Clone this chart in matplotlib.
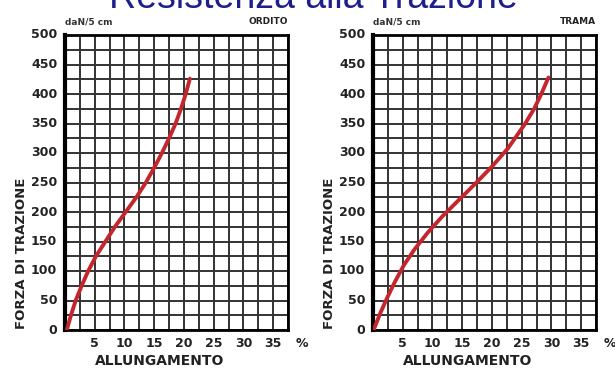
import numpy as np
import matplotlib.pyplot as plt

plt.rcParams['font.family'] = ['DejaVu Sans']

# allungamento (%) e forza di trazione (daN/5 cm)
ordito_x = [0.3, 1.0, 1.8, 2.8, 3.9, 5.2, 6.8, 8.4, 10.2, 12.0, 13.6, 15.0, 16.3, 17.5, 18.6, 19.5, 20.3, 21.0]
ordito_y = [0, 25, 50, 75, 100, 125, 150, 175, 200, 225, 250, 275, 300, 325, 350, 375, 400, 426]

trama_x = [0.1, 1.2, 2.4, 3.7, 5.2, 7.0, 9.2, 11.7, 14.4, 17.2, 20.0, 22.7, 25.6, 27.1, 28.3, 29.5]
trama_y = [0, 28, 55, 82, 110, 137, 165, 193, 220, 248, 277, 308, 350, 375, 400, 428]

xticks = [5, 10, 15, 20, 25, 30, 35]
yticks = list(range(0, 501, 50))

fig = plt.figure(figsize=(6.15, 3.69), dpi=100)
fig.patch.set_facecolor('white')

fig.text(0.51, 1 - 8/369, 'Resistenza alla Trazione', color='#1e1e8c',
         fontsize=27, ha='center', va='baseline', family='Liberation Sans')

pannelli = [
    (65/615, ordito_x, ordito_y, 'ORDITO'),
    (373/615, trama_x, trama_y, 'TRAMA'),
]

for left, xs, ys, nome in pannelli:
    ax = fig.add_axes([left, 1 - 330/369, 223/615, 295/369])
    ax.set_xlim(0, 37.5)
    ax.set_ylim(0, 500)
    ax.set_xticks(np.arange(0, 37.6, 2.5))
    ax.set_yticks(np.arange(0, 501, 25))
    ax.grid(True, color='#333333', lw=1.4)
    ax.set_axisbelow(True)
    ax.tick_params(length=0, labelbottom=False, labelleft=False)
    for s in ax.spines.values():
        s.set_linewidth(2)
        s.set_color('black')
    ax.spines['left'].set_linewidth(3)

    ax.plot(xs, ys, color='#c4262e', lw=2.8, solid_capstyle='round',
            solid_joinstyle='round', zorder=5)

    # etichette degli assi
    for t in xticks:
        ax.text(t, -12, str(t), ha='center', va='top', fontsize=9,
                fontweight='bold', color='#222')
    ax.text(39.8, -12, '%', ha='center', va='top', fontsize=9,
            fontweight='bold', color='#222')
    for t in yticks:
        ax.text(-1.3, t, str(t), ha='right', va='center', fontsize=9,
                fontweight='bold', color='#222')

    ax.text(0.0, 1.045, 'daN/5 cm', transform=ax.transAxes, ha='left', va='center',
            fontsize=6.5, fontweight='bold', color='#333')
    ax.text(1.0, 1.045, nome, transform=ax.transAxes, ha='right', va='center',
            fontsize=6.5, fontweight='bold', color='#222')

    ax.text(-0.195, 0.26, 'FORZA DI TRAZIONE', transform=ax.transAxes, rotation=90,
            ha='center', va='center', fontsize=9.5, fontweight='bold', color='#222')
    ax.text(0.425, (330 - 361) / 295, 'ALLUNGAMENTO', transform=ax.transAxes,
            ha='center', va='center', fontsize=10, fontweight='bold', color='#222')

fig.savefig('out.png', dpi=100, facecolor='white')
